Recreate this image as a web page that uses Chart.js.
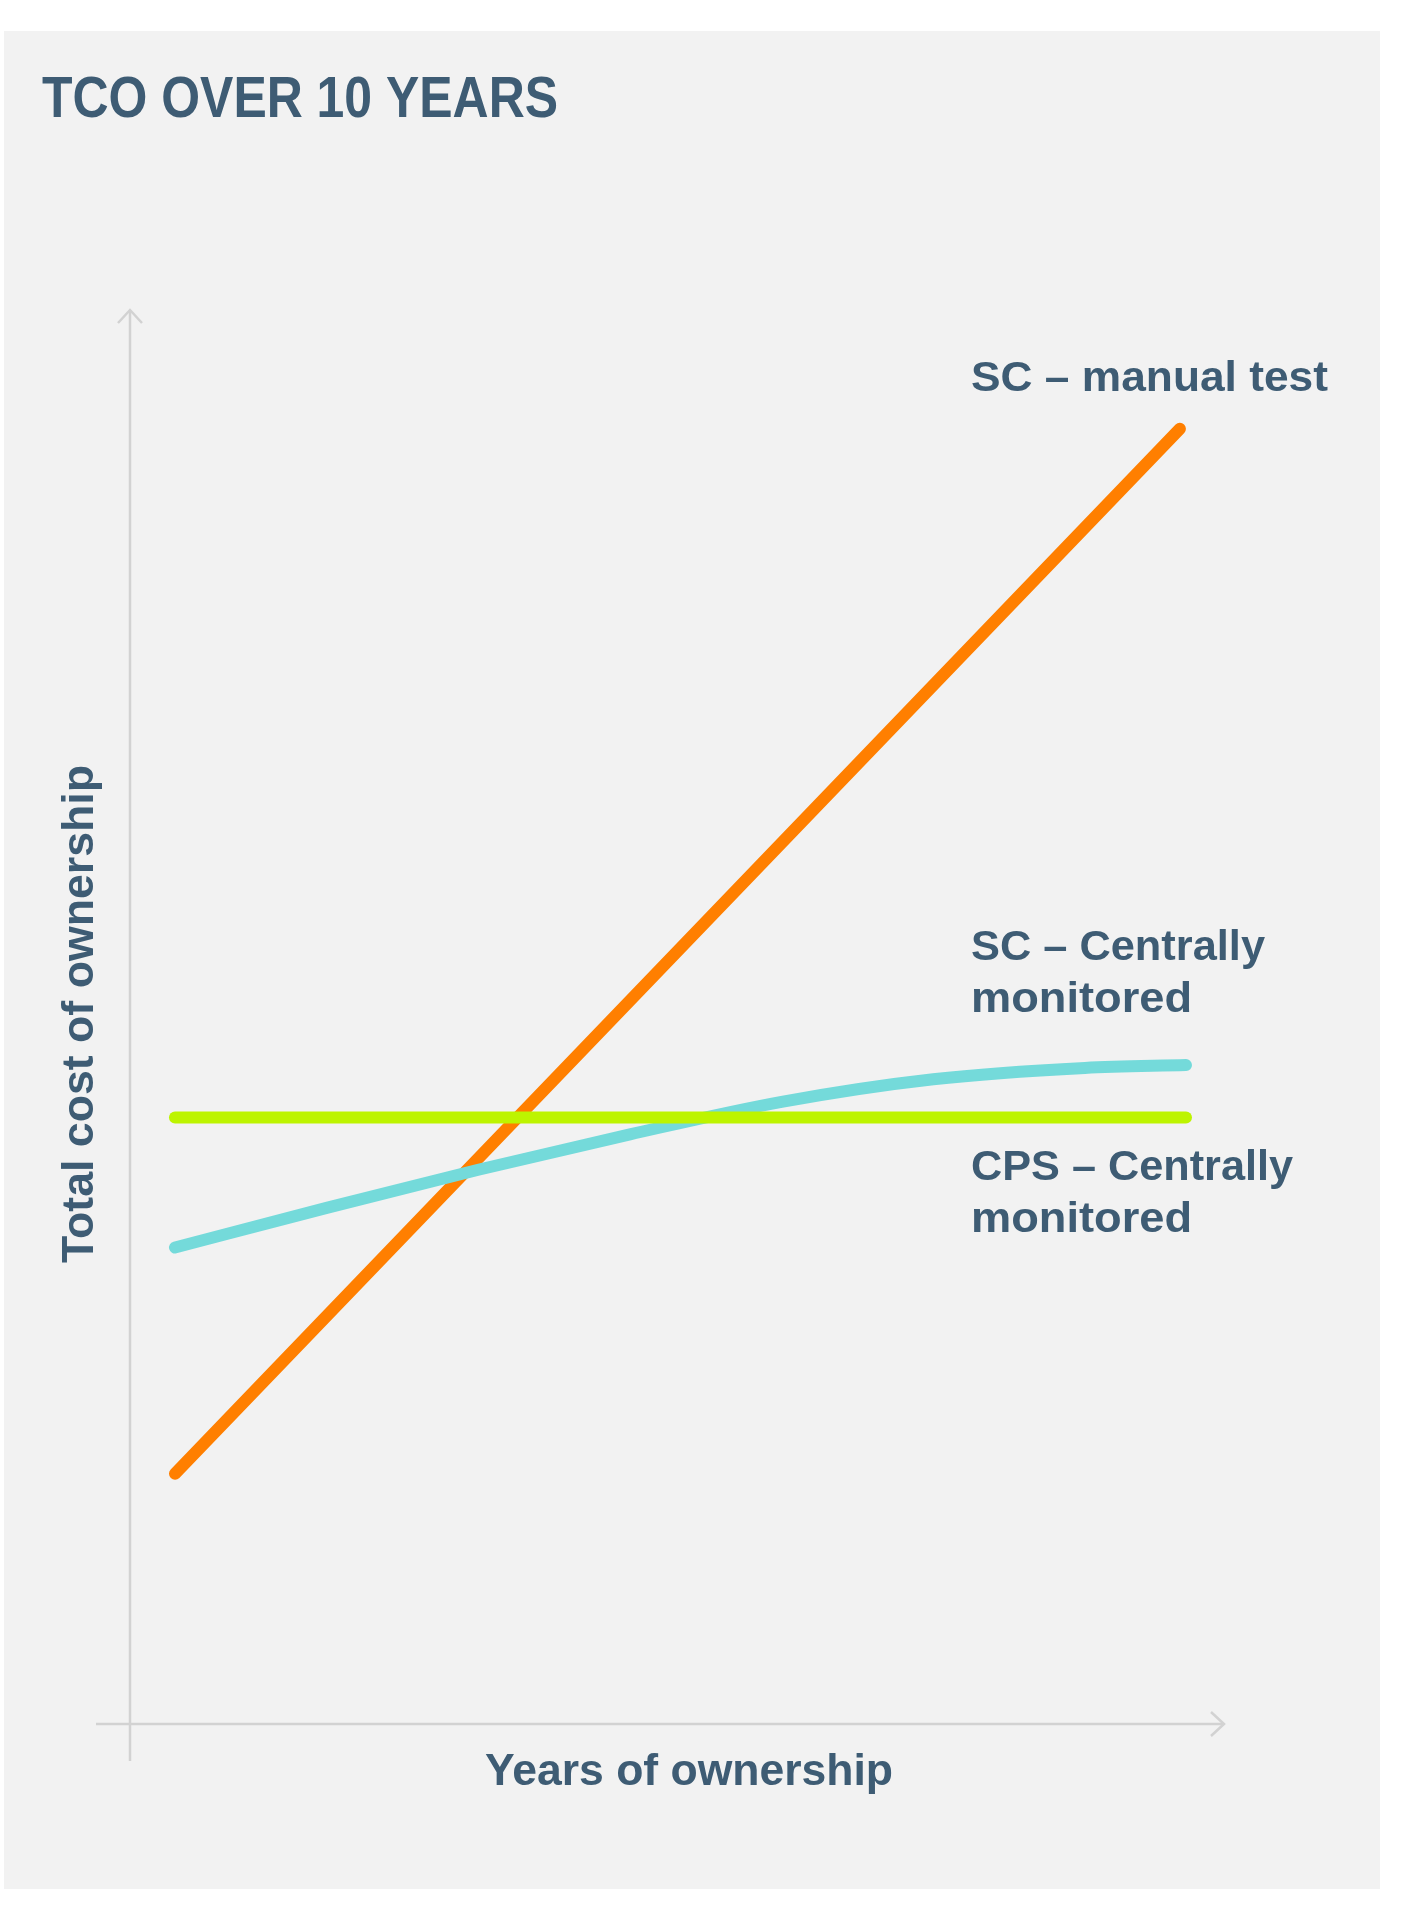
<!DOCTYPE html>
<html>
<head>
<meta charset="utf-8">
<title>TCO over 10 years</title>
<script src="https://cdn.jsdelivr.net/npm/chart.js@4.4.1/dist/chart.umd.min.js"></script>
<style>
  html, body { margin: 0; padding: 0; background: #ffffff; }
  #wrap { width: 1403px; height: 1920px; }
</style>
</head>
<body>
<div id="wrap"><canvas id="tcoChart" width="1403" height="1920"></canvas></div>
<script>
// values (x = years, y = relative cost 0..100)
const manualYears = [0, 9.94];
const manualCost = [17.7, 91.6];

const scCentralYears = [0, 1.5, 3, 4.5, 6, 7.5, 9, 10];
const scCentralCost = [33.7, 36.5, 39.2, 41.7, 44.0, 45.6, 46.4, 46.6];

const cpsYears = [0, 10];
const cpsCost = [42.9, 42.9];

const titleText = 'TCO OVER 10 YEARS';
const xTitle = 'Years of ownership';
const yTitle = 'Total cost of ownership';
const seriesLabels = [
  ['SC \u2013 manual test'],
  ['SC \u2013 Centrally', 'monitored'],
  ['CPS \u2013 Centrally', 'monitored']
];

const textColor = '#3e5c74';
const axisColor = '#d2d2d2';
const fontFamily = "'Liberation Sans', Arial, Helvetica, sans-serif";

function toPoints(xs, ys) {
  return xs.map((x, i) => ({ x: x, y: ys[i] }));
}

// draws bold text squeezed / stretched to a given width
function fitText(ctx, text, x, y, size, width, align) {
  ctx.save();
  ctx.font = 'bold ' + size + 'px ' + fontFamily;
  var w = ctx.measureText(text).width;
  var k = width / w;
  ctx.translate(x, y);
  ctx.scale(k, 1);
  ctx.textBaseline = 'alphabetic';
  ctx.textAlign = align || 'left';
  ctx.fillStyle = textColor;
  ctx.fillText(text, 0, 0);
  ctx.restore();
}

const decorPlugin = {
  id: 'decor',
  beforeDraw(chart) {
    const ctx = chart.ctx;
    ctx.save();
    ctx.fillStyle = '#ffffff';
    ctx.fillRect(0, 0, chart.width, chart.height);
    ctx.fillStyle = '#f2f2f2';
    ctx.fillRect(4, 31, 1376, 1858);
    ctx.restore();

    // axes with open arrow heads
    const a = chart.chartArea;
    ctx.save();
    ctx.strokeStyle = axisColor;
    ctx.lineWidth = 2.5;
    ctx.lineCap = 'butt';
    ctx.beginPath();
    ctx.moveTo(a.left, a.bottom + 37);
    ctx.lineTo(a.left, a.top);
    ctx.moveTo(a.left - 34, a.bottom);
    ctx.lineTo(a.right, a.bottom);
    ctx.stroke();
    ctx.beginPath();
    ctx.moveTo(a.left - 12, a.top + 13);
    ctx.lineTo(a.left, a.top);
    ctx.lineTo(a.left + 12, a.top + 13);
    ctx.moveTo(a.right - 13, a.bottom - 12);
    ctx.lineTo(a.right, a.bottom);
    ctx.lineTo(a.right - 13, a.bottom + 12);
    ctx.stroke();
    ctx.restore();
  },
  afterDraw(chart) {
    const ctx = chart.ctx;
    const a = chart.chartArea;

    fitText(ctx, titleText, 42, 117, 57, 516);

    // axis titles
    fitText(ctx, xTitle, 689, a.bottom + 61, 44, 408, 'center');
    ctx.save();
    ctx.translate(93, 1014);
    ctx.rotate(-Math.PI / 2);
    fitText(ctx, yTitle, 0, 0, 44, 498, 'center');
    ctx.restore();

    // series labels
    const lx = 971;
    fitText(ctx, seriesLabels[0][0], lx, 391, 43, 357);
    fitText(ctx, seriesLabels[1][0], lx, 960, 43, 294);
    fitText(ctx, seriesLabels[1][1], lx, 1012, 43, 221);
    fitText(ctx, seriesLabels[2][0], lx, 1180, 43, 322);
    fitText(ctx, seriesLabels[2][1], lx, 1232, 43, 221);
  }
};

const ctx = document.getElementById('tcoChart').getContext('2d');
const tcoChart = new Chart(ctx, {
  type: 'line',
  data: {
    datasets: [
      {
        label: 'CPS \u2013 Centrally monitored',
        data: toPoints(cpsYears, cpsCost),
        borderColor: '#bdf400',
        borderWidth: 12,
        borderCapStyle: 'round',
        pointRadius: 0,
        fill: false
      },
      {
        label: 'SC \u2013 Centrally monitored',
        data: toPoints(scCentralYears, scCentralCost),
        borderColor: '#74dada',
        borderWidth: 12,
        borderCapStyle: 'round',
        borderJoinStyle: 'round',
        cubicInterpolationMode: 'monotone',
        pointRadius: 0,
        fill: false
      },
      {
        label: 'SC \u2013 manual test',
        data: toPoints(manualYears, manualCost),
        borderColor: '#ff7f00',
        borderWidth: 12,
        borderCapStyle: 'round',
        pointRadius: 0,
        fill: false
      }
    ]
  },
  options: {
    responsive: false,
    animation: false,
    layout: { padding: { left: 130, right: 179, top: 310, bottom: 196 } },
    plugins: {
      legend: { display: false },
      tooltip: { enabled: false },
      title: { display: false }
    },
    scales: {
      x: { type: 'linear', min: -0.445, max: 10.376, display: false },
      y: { type: 'linear', min: 0, max: 100, display: false }
    }
  },
  plugins: [decorPlugin]
});
</script>
</body>
</html>
